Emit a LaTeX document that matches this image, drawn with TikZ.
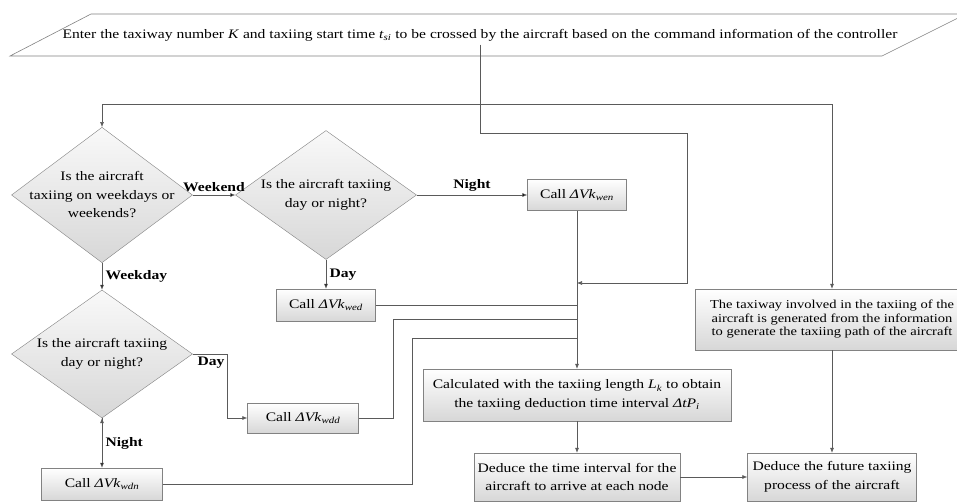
\documentclass[tikz,border=0pt]{standalone}
\usepackage{fontspec}
\setmainfont[FakeStretch=1.2]{Liberation Serif}
\usetikzlibrary{arrows.meta,shapes.geometric,quotes}
\definecolor{myline}{RGB}{90,90,90}
\definecolor{myframe}{RGB}{130,130,130}
\definecolor{myfill}{RGB}{215,215,215}
\newcommand{\dvk}[1]{\textit{ΔVk}\textsubscript{\textit{#1}}}

\begin{document}
\begin{tikzpicture}[x=1pt,y=-1pt,
  font=\fontsize{13}{18.5}\selectfont,
  line/.style={draw=myline,line width=0.6pt},
  arr/.style={line,-{Latex[length=5pt,width=4pt]}},
  proc/.style={draw=myframe,top color=white,bottom color=myfill,
    align=center,inner sep=2pt},
  decide/.style={diamond,draw=myframe,top color=white!85!myfill,
    bottom color=myfill,minimum width=181pt,minimum height=129pt,
    inner sep=-14pt,align=center},
  lbl/.style={font=\fontsize{13}{15}\selectfont\bfseries},
  every edge quotes/.style={auto,lbl}]

  \fill[white] (0,0) rectangle (957,502);
  \clip (0,0) rectangle (957,502);

  % input from the controller
  \draw[draw=myframe,line width=0.6pt] (10,56) -- (91,14) -- (966,14)
    -- (882,56) -- cycle;
  \node (input) at (480,35) {Enter the taxiway number \textit{K} and taxiing
    start time \textit{t}\textsubscript{\textit{si}} to be crossed by the
    aircraft based on the command information of the controller};

  % questions
  \node[decide] (q1) at (102,195) {Is the aircraft\\taxiing on weekdays or\\weekends?};
  \node[decide] (q2) at (326,195) {Is the aircraft taxiing\\day or night?};
  \node[decide,minimum height=128pt] (q3) at (102,354) {Is the aircraft taxiing\\day or night?};

  % calls
  \node[proc,minimum width=99pt,minimum height=31pt] (wen) at (577,195) {Call \dvk{wen}};
  \node[proc,minimum width=99pt,minimum height=32pt] (wed) at (326,305) {Call \dvk{wed}};
  \node[proc,minimum width=111pt,minimum height=30pt] (wdd) at (303,418) {Call \dvk{wdd}};
  \node[proc,minimum width=121pt,minimum height=32pt] (wdn) at (102,484) {Call \dvk{wdn}};

  % deduction
  \node[proc,minimum width=308pt,minimum height=52pt] (calc) at (577,395)
    {Calculated with the taxiing length \textit{L}\textsubscript{\textit{k}} to obtain\\
     the taxiing deduction time interval \textit{ΔtP}\textsubscript{\textit{i}}};
  \node[proc,minimum width=206pt,minimum height=48pt] (ded1) at (577,477)
    {Deduce the time interval for the\\aircraft to arrive at each node};
  \node[proc,minimum width=274pt,minimum height=61pt,
    font=\fontsize{12.1}{13.5}\selectfont] (path) at (832,319.5)
    {The taxiway involved in the taxiing of the\\
     aircraft is generated from the information\\
     to generate the taxiing path of the aircraft};
  \node[proc,minimum width=169pt,minimum height=48pt] (ded2) at (832,477)
    {Deduce the future taxiing\\process of the aircraft};

  \coordinate (j0) at (480,104);
  \coordinate (j1) at (687,133);
  \coordinate (j2) at (577,283);
  \coordinate (m1) at (577,319);
  \coordinate (m2) at (577,338);

  % branches from the input
  \draw[line] (input.south) -- (j0);
  \draw[arr] (j0) -| (q1.north);
  \draw[arr] (j0) -| (path.north);
  \draw[arr] (j0) |- (j1) |- (j2);

  \draw[arr] (q1.east) edge["Weekend"] (q2.west)
    (q1.south) edge["Weekday"] (q3.north)
    (q2.east) edge["Night"] (wen.west)
    (q2.south) edge["Day"] (wed.north)
    (q3.south) edge["Night"] (wdn.north);
  \draw[arr] (q3.east) -- ++(35,0) node[lbl,anchor=north east,inner sep=3pt] {Day}
    |- (wdd.west);

  % collect the calls
  \draw[arr] (wen.south) -- (calc.north);
  \draw[line] (wed.east) -- (wed.east -| wen.south);
  \draw[line] (wdd.east) -- ++(35,0) |- (m1);
  \draw[line] (wdn.east) -- ++(250,0) |- (m2);

  \draw[arr] (calc.south) -- (ded1.north);
  \draw[arr] (ded1.east) -- (ded2.west);
  \draw[arr] (path.south) -- (ded2.north);
\end{tikzpicture}
\end{document}
